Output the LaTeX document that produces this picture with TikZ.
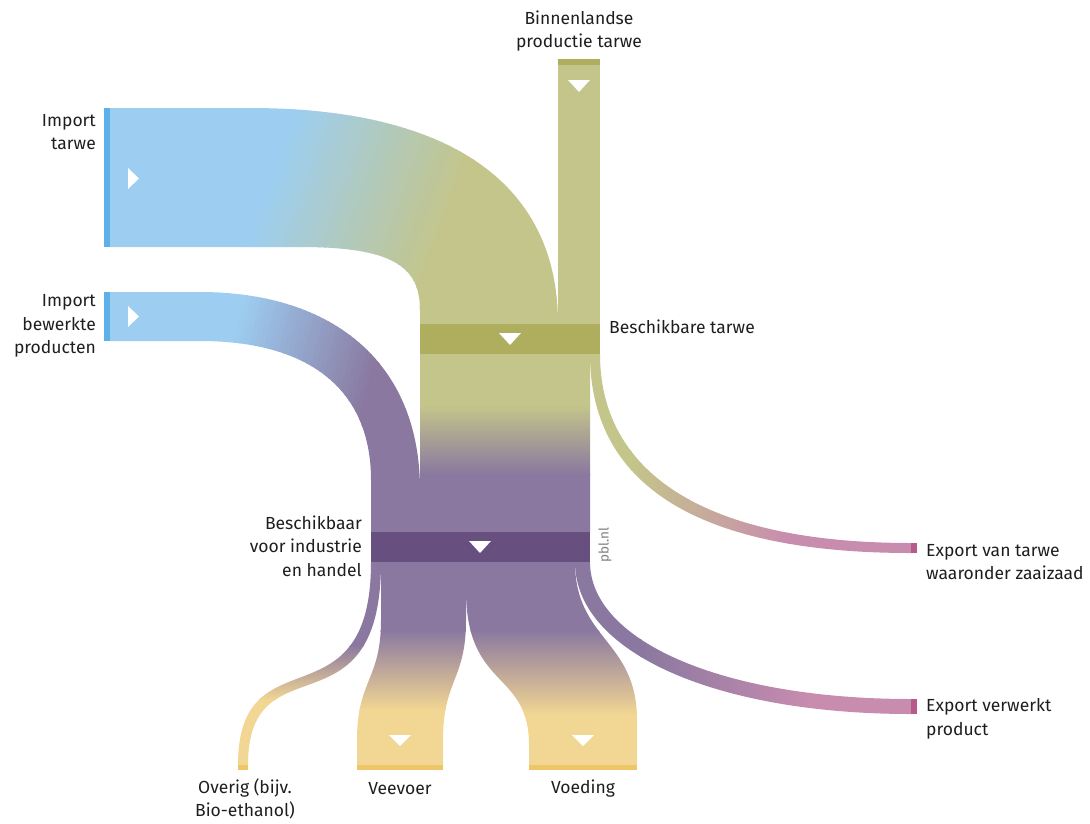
\documentclass[tikz,border=0pt]{standalone}
\usepackage{fontspec}
\setmainfont{Fira Sans}
\definecolor{bluef}{HTML}{9DCEF1}
\definecolor{blueb}{HTML}{5DB1E8}
\definecolor{olivef}{HTML}{C4C58A}
\definecolor{oliveb}{HTML}{AEAE5E}
\definecolor{purplef}{HTML}{8A78A0}
\definecolor{purpleb}{HTML}{674F80}
\definecolor{yellowf}{HTML}{F2D693}
\definecolor{yellowb}{HTML}{EEC668}
\definecolor{pinkf}{HTML}{C88CAF}
\definecolor{pinkb}{HTML}{B65A8C}
\definecolor{txt}{HTML}{1E1E1E}
\begin{document}
\begin{tikzpicture}[x=1pt,y=-1pt,
  bar/.style={draw=none,inner sep=0pt,outer sep=0pt,anchor=north west},
  lbl/.style={font=\fontsize{17.5}{23.5}\selectfont,inner sep=0pt,text=txt},
  tri/.style={fill=white,draw=none}]
\useasboundingbox (0,0) rectangle (1090,823);
% ---------- flows ----------
% Import tarwe (diagonal gradient built from thin strips)
\begin{scope}
\clip (110,108) -- (250,108) .. controls (430,108) and (558,170) .. (558,324) -- (420,324) -- (420,310) .. controls (420,265) and (390,247) .. (300,247) -- (110,247) -- cycle;
\begin{scope}[rotate around={-20:(368,180)}]
\fill[bluef] (0,-200) rectangle (276,600);
\fill[olivef] (459,-200) rectangle (800,600);
\foreach \i in {0,...,36} {
  \pgfmathsetmacro\p{100-\i*100/36}
  \fill[bluef!\p!olivef] ({275+\i*5},-200) rectangle ({281+\i*5},600);
}
\end{scope}
\end{scope}
% Binnenlandse productie
\fill[olivef] (558,65) rectangle (600,324);
% Import bewerkte producten
\begin{scope}
\clip (110,292) -- (200,292) .. controls (330,292) and (420,360) .. (420,490) -- (420,532) -- (371,532) -- (371,480) .. controls (371,390) and (310,341) .. (200,341) -- (110,341) -- cycle;
\begin{scope}[rotate around={-15:(310,330)}]
\fill[bluef] (0,100) rectangle (236,700);
\fill[purplef] (384,100) rectangle (700,700);
\foreach \i in {0,...,29} {
  \pgfmathsetmacro\p{100-\i*100/29}
  \fill[bluef!\p!purplef] ({235+\i*5},100) rectangle ({241+\i*5},700);
}
\end{scope}
\end{scope}
% Beschikbare -> industrie
\begin{scope}
\clip (420,354) rectangle (590,532);
\fill[olivef] (415,350) rectangle (595,407);
\fill[purplef] (415,473) rectangle (595,540);
\shade[top color=olivef,bottom color=purplef] (415,405) rectangle (595,475);
\end{scope}
% Export van tarwe
\begin{scope}
\clip (600,354) .. controls (600,470) and (700,543) .. (911,543) -- (911,553) .. controls (690,553) and (590,480) .. (590,354) -- cycle;
\fill[olivef] (585,350) rectangle (632,560);
\fill[pinkf] (788,350) rectangle (915,560);
\shade[left color=olivef,right color=pinkf] (630,350) rectangle (790,560);
\end{scope}
% Export verwerkt product
\begin{scope}
\clip (590,562) .. controls (590,640) and (720,699) .. (911,699) -- (911,714) .. controls (715,714) and (575,652) .. (575,562) -- cycle;
\fill[purplef] (570,558) rectangle (642,720);
\fill[pinkf] (808,558) rectangle (915,720);
\shade[left color=purplef,right color=pinkf] (640,558) rectangle (810,720);
\end{scope}
% Overig
\begin{scope}
\clip (371,562) .. controls (371,730) and (238,630) .. (238,765) -- (248,765) .. controls (248,638) and (381,740) .. (381,562) -- cycle;
\fill[purplef] (230,558) rectangle (390,647);
\fill[yellowf] (230,698) rectangle (390,770);
\shade[top color=purplef,bottom color=yellowf] (230,645) rectangle (390,700);
\end{scope}
% Veevoer
\begin{scope}
\clip (381,562) -- (381,620) .. controls (381,680) and (357,680) .. (357,740) -- (357,765) -- (443,765) -- (443,740) .. controls (443,680) and (466,680) .. (466,620) -- (466,562) -- cycle;
\fill[purplef] (350,558) rectangle (470,632);
\fill[yellowf] (350,708) rectangle (470,770);
\shade[top color=purplef,bottom color=yellowf] (350,630) rectangle (470,710);
\end{scope}
% Voeding
\begin{scope}
\clip (466,562) -- (466,590) .. controls (466,690) and (529,670) .. (529,745) -- (529,765) -- (637,765) -- (637,720) .. controls (637,640) and (575,640) .. (575,562) -- cycle;
\fill[purplef] (460,558) rectangle (640,632);
\fill[yellowf] (460,713) rectangle (640,770);
\shade[top color=purplef,bottom color=yellowf] (460,630) rectangle (640,715);
\end{scope}
% ---------- bars (nodes) ----------
\node[bar,fill=blueb,minimum width=6,minimum height=139] (imptarwe) at (104,108) {};
\node[bar,fill=blueb,minimum width=6,minimum height=49] (impbew) at (104,292) {};
\node[bar,fill=oliveb,minimum width=42,minimum height=6] (binnen) at (558,59) {};
\node[bar,fill=oliveb,minimum width=180,minimum height=30] (beschik) at (420,324) {};
\node[bar,fill=purpleb,minimum width=219,minimum height=30] (industrie) at (371,532) {};
\node[bar,fill=pinkb,minimum width=6,minimum height=10] (exptarwe) at (911,543) {};
\node[bar,fill=pinkb,minimum width=6,minimum height=15] (expverw) at (911,699) {};
\node[bar,fill=yellowb,minimum width=10,minimum height=5] (overig) at (238,765) {};
\node[bar,fill=yellowb,minimum width=86,minimum height=5] (veevoer) at (357,765) {};
\node[bar,fill=yellowb,minimum width=108,minimum height=5] (voeding) at (529,765) {};
% ---------- triangles ----------
\fill[tri] (128,168) -- (128,189) -- (139,178.5) -- cycle;
\fill[tri] (128,306) -- (128,327) -- (139,316.5) -- cycle;
\fill[tri] (568,80) -- (590,80) -- (579,92) -- cycle;
\fill[tri] (499,333) -- (521,333) -- (510,345) -- cycle;
\fill[tri] (469,541) -- (491,541) -- (480,553) -- cycle;
\fill[tri] (389,735) -- (411,735) -- (400,746) -- cycle;
\fill[tri] (572,735) -- (594,735) -- (583,746) -- cycle;
% ---------- labels ----------
\node[lbl,align=center] (tbinnen) at (579,31) {Binnenlandse\\productie tarwe};
\node[lbl,align=right,anchor=east] (timptarwe) at (96,132) {Import\\tarwe};
\node[lbl,align=right,anchor=east] (timpbew) at (96,326) {Import\\bewerkte\\producten};
\node[lbl,anchor=west] (tbeschik) at (609,327) {Beschikbare tarwe};
\node[lbl,align=right,anchor=east] (tindustrie) at (362,546) {Beschikbaar\\voor industrie\\en handel};
\node[lbl,align=left,anchor=west] (texptarwe) at (926,562) {Export van tarwe\\waaronder zaaizaad};
\node[lbl,align=left,anchor=west] (texpverw) at (926,719) {Export verwerkt\\product};
\node[lbl,align=center] (toverig) at (245,799) {Overig (bijv.\\Bio-ethanol)};
\node[lbl] (tveevoer) at (400,789) {Veevoer};
\node[lbl] (tvoeding) at (583,789) {Voeding};
\node[inner sep=0pt,rotate=90,text=black!50,font=\fontsize{13.5}{13.5}\selectfont] (pbl) at (605,545) {pbl.nl};
\end{tikzpicture}
\end{document}
